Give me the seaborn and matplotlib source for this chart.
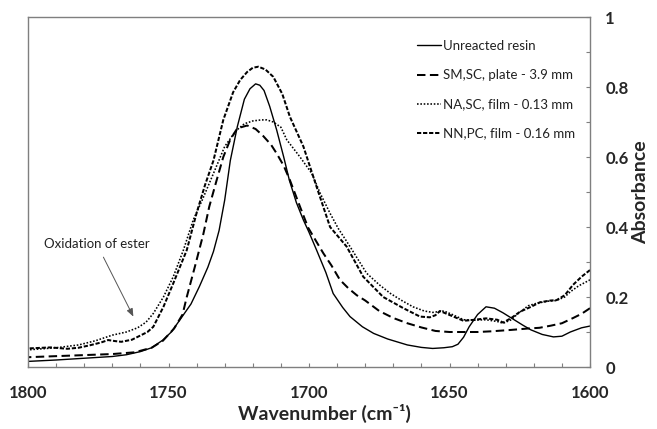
import numpy as np
import pandas as pd
import matplotlib
matplotlib.use("Agg")
import matplotlib.pyplot as plt
from matplotlib.ticker import MultipleLocator, FixedLocator
import seaborn as sns

# ---- data ----
wn_u = [1800, 1790, 1780, 1770, 1765, 1760, 1756, 1752, 1749, 1746,
        1742, 1739, 1736, 1734, 1732, 1730, 1728, 1725.5, 1723, 1721,
        1719, 1717.5, 1716, 1714, 1711.5, 1709, 1707, 1704.5, 1702, 1700,
        1697.3, 1694, 1691.4, 1688, 1685.4, 1681, 1677, 1672, 1665, 1660,
        1656, 1652, 1649, 1647, 1645, 1643, 1640, 1637, 1634, 1631,
        1628, 1624, 1621, 1617, 1613, 1610, 1607, 1603, 1600]
a_u = [0.016, 0.02, 0.025, 0.03, 0.035, 0.044, 0.055, 0.077, 0.10, 0.134,
       0.18, 0.23, 0.285, 0.33, 0.39, 0.477, 0.59, 0.687, 0.765, 0.795,
       0.809, 0.805, 0.79, 0.745, 0.677, 0.60, 0.534, 0.47, 0.42, 0.385,
       0.334, 0.27, 0.21, 0.17, 0.144, 0.115, 0.096, 0.08, 0.063, 0.056,
       0.053, 0.055, 0.058, 0.065, 0.085, 0.115, 0.15, 0.172, 0.168, 0.155,
       0.14, 0.12, 0.106, 0.093, 0.086, 0.088, 0.1, 0.112, 0.117]

wn_s = [1800, 1790, 1780, 1770, 1762, 1756, 1752, 1748, 1745, 1743.5,
        1740.6, 1737.6, 1735.5, 1733, 1730.5, 1728, 1725.5, 1722, 1719, 1716.3,
        1713.5, 1711.5, 1709, 1706.8, 1703.2, 1700.3, 1697.5, 1694.9, 1692, 1689,
        1686, 1683, 1680, 1675, 1670, 1665, 1660, 1655, 1650, 1645,
        1640, 1635, 1628, 1622, 1618, 1614, 1610, 1606, 1603, 1600]
a_s = [0.028, 0.031, 0.034, 0.037, 0.042, 0.055, 0.075, 0.11, 0.15, 0.20,
       0.287, 0.38, 0.458, 0.53, 0.60, 0.65, 0.682, 0.69, 0.68, 0.66,
       0.635, 0.61, 0.575, 0.534, 0.458, 0.398, 0.36, 0.325, 0.29, 0.249,
       0.225, 0.205, 0.19, 0.16, 0.14, 0.125, 0.113, 0.103, 0.10, 0.10,
       0.10, 0.102, 0.106, 0.11, 0.112, 0.118, 0.125, 0.14, 0.152, 0.168]

wn_n = [1800, 1790, 1782, 1776, 1770, 1765, 1761, 1758, 1755.4, 1751.8,
        1748.3, 1744.7, 1741.2, 1738, 1734, 1730, 1726, 1723, 1720, 1717,
        1715, 1712.7, 1710, 1707.9, 1703.2, 1699, 1696, 1692.5, 1689.6, 1685.4,
        1682, 1679.5, 1675, 1671, 1667, 1663, 1659, 1656, 1654, 1652,
        1649, 1645, 1641, 1637, 1633, 1630.9, 1628, 1626, 1622, 1619,
        1615, 1612, 1609, 1607, 1604, 1600]
a_n = [0.049, 0.055, 0.063, 0.075, 0.091, 0.10, 0.112, 0.128, 0.153, 0.20,
       0.258, 0.334, 0.42, 0.477, 0.553, 0.63, 0.675, 0.695, 0.703, 0.706,
       0.706, 0.70, 0.685, 0.649, 0.60, 0.553, 0.496, 0.439, 0.396, 0.344,
       0.30, 0.268, 0.235, 0.21, 0.19, 0.172, 0.16, 0.156, 0.158, 0.16,
       0.15, 0.135, 0.134, 0.135, 0.13, 0.125, 0.135, 0.15, 0.175, 0.182,
       0.188, 0.19, 0.2, 0.215, 0.232, 0.249]

wn_p = [1800, 1792, 1786, 1782, 1778, 1774, 1771.5, 1769, 1766.8, 1763,
        1760, 1757.5, 1755.4, 1751.8, 1748.3, 1743.5, 1740, 1737, 1734, 1730.5,
        1727, 1724.5, 1722, 1720, 1718, 1715.5, 1712.7, 1709.5, 1706.8, 1702,
        1697.3, 1692.5, 1686.6, 1680.7, 1673.6, 1666.4, 1660.5, 1657, 1655, 1653.4,
        1651, 1648.6, 1645, 1641, 1637, 1633, 1630.9, 1628, 1624.9, 1621,
        1617.8, 1614, 1611.9, 1609, 1606, 1603, 1600]
a_p = [0.053, 0.056, 0.052, 0.055, 0.062, 0.07, 0.077, 0.074, 0.072, 0.078,
       0.09, 0.10, 0.115, 0.172, 0.239, 0.334, 0.44, 0.52, 0.59, 0.706,
       0.785, 0.82, 0.843, 0.855, 0.858, 0.85, 0.829, 0.78, 0.715, 0.63,
       0.515, 0.40, 0.344, 0.258, 0.20, 0.168, 0.144, 0.142, 0.148, 0.16,
       0.152, 0.144, 0.132, 0.135, 0.139, 0.135, 0.127, 0.14, 0.158, 0.172,
       0.185, 0.19, 0.191, 0.205, 0.235, 0.258, 0.277]

series_names = ["Unreacted resin", "SM,SC, plate - 3.9 mm",
                "NA,SC, film - 0.13 mm", "NN,PC, film - 0.16 mm"]
x_ticks = [1800, 1750, 1700, 1650, 1600]
y_ticks = [0, 0.2, 0.4, 0.6, 0.8, 1.0]
y_ticklabels = ["0", "0.2", "0.4", "0.6", "0.8", "1"]
annotation_text = "Oxidation of ester"

# ---- styling ----
sns.set_style("white")
plt.rcParams["font.family"] = ["Lato", "DejaVu Sans"]

fig = plt.figure(figsize=(6.57, 4.29), dpi=100)
W, H = 657, 429
x0, x1, yt, yb = 28, 590, 17, 367
ax = fig.add_axes([x0 / W, 1 - yb / H, (x1 - x0) / W, (yb - yt) / H])

styles = [
    dict(linestyle="-", linewidth=1.0),
    dict(linestyle=(0, (4.2, 2.2)), linewidth=1.45),
    dict(linestyle=(0, (1.0, 1.1)), linewidth=1.15),
    dict(linestyle=(0, (2.1, 0.9)), linewidth=1.45),
]
data = [(wn_u, a_u), (wn_s, a_s), (wn_n, a_n), (wn_p, a_p)]
for (xs, ys), name, st in zip(data, series_names, styles):
    df = pd.DataFrame({"Wavenumber": xs, "Absorbance": ys})
    sns.lineplot(data=df, x="Wavenumber", y="Absorbance", ax=ax,
                 color="black", estimator=None, sort=True, label=name, **st)

ax.set_xlim(1800, 1600)
ax.set_ylim(0, 1)

gray = "#7f7f7f"
for sp in ax.spines.values():
    sp.set_visible(True)
    sp.set_color(gray)
    sp.set_linewidth(1.0)

ax.xaxis.set_major_locator(FixedLocator(x_ticks))
ax.xaxis.set_minor_locator(MultipleLocator(10))
ax.set_xticklabels([str(t) for t in x_ticks])
ax.yaxis.tick_right()
ax.yaxis.set_label_position("right")
ax.yaxis.set_major_locator(FixedLocator(y_ticks))
ax.yaxis.set_minor_locator(MultipleLocator(0.1))
ax.set_yticklabels(y_ticklabels)

ax.tick_params(axis="both", which="both", direction="in", length=3.2,
               width=0.8, color=gray)
ax.tick_params(axis="x", which="major", pad=13, labelsize=12)
ax.tick_params(axis="y", which="major", pad=11, labelsize=12)
ax.tick_params(axis="y", which="both", left=False, right=True)
ax.tick_params(axis="x", which="both", top=False, bottom=True)
for lab in ax.get_xticklabels() + ax.get_yticklabels():
    lab.set_fontweight("bold")

ax.set_xlabel("Wavenumber (cm\u207b\u00b9)", fontsize=14, fontweight="bold")
ax.xaxis.set_label_coords((324 - x0) / (x1 - x0), -(413 - yb) / (yb - yt))
ax.xaxis.label.set_va("center")
ax.set_ylabel("Absorbance", fontsize=14, fontweight="bold", rotation=90)
ax.yaxis.set_label_coords((641 - x0) / (x1 - x0), 0.5)
ax.yaxis.label.set_va("center")
ax.yaxis.label.set_ha("center")

leg = ax.legend(loc="upper left", bbox_to_anchor=((417 - x0) / (x1 - x0),
                                                  (yb - 40) / (yb - yt)),
                frameon=False, fontsize=9.5, handlelength=1.85,
                handletextpad=0.15, labelspacing=1.3, borderpad=0,
                borderaxespad=0)
for t in leg.get_texts():
    t.set_color("#222222")

ax.annotate(annotation_text, xy=(1762.5, 0.144), xytext=(1775.5, 0.351),
            ha="center", va="center", fontsize=9.5, color="#222222",
            arrowprops=dict(arrowstyle="-|>,head_length=0.5,head_width=0.2",
                            color="#555555", lw=0.7, shrinkA=3, shrinkB=0))

fig.savefig("out.png", dpi=100)
